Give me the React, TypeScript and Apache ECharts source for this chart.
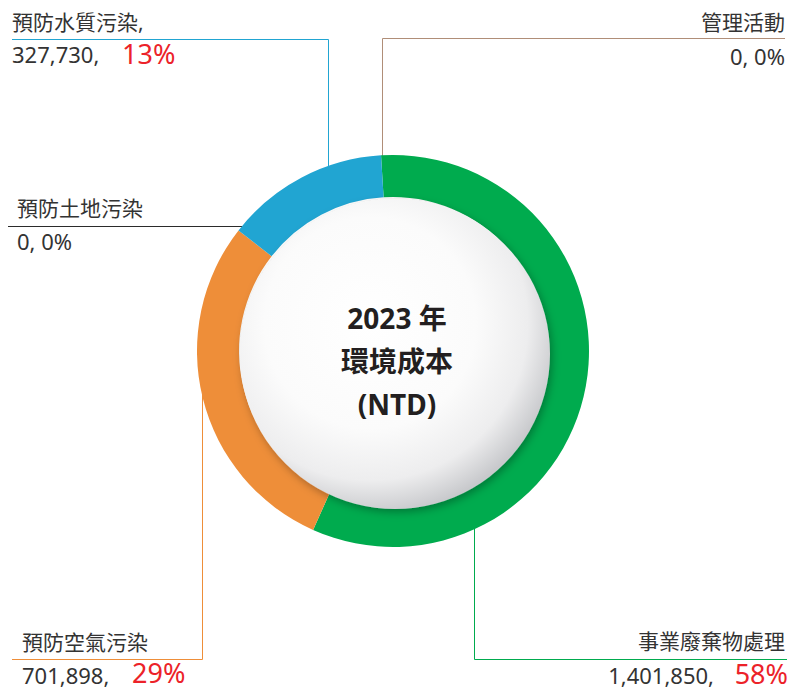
import React, { useEffect, useRef } from "react";
import * as echarts from "echarts";

// ---- data ----
const categories = ["事業廢棄物處理", "預防空氣污染", "預防土地污染", "預防水質污染", "管理活動"];
const values = [1401850, 701898, 0, 327730, 0];
const sliceColors = ["#00ab4e", "#ee8e39", "#2b2b2b", "#21a5d2", "#b08e78"];
const centerTitle = ["2023 年", "環境成本", "(NTD)"];

// ---- annotation layout (positions only) ----
type Ann = {
  align: "left" | "right";
  nameX: number; nameY: number;
  valX: number; valY: number;
  pctX: number; pctDy: number;
  line: number[][];
  nameSuffix: string;
};
const annotations: Ann[] = [
  { align: "right", nameX: 785, nameY: 641, valX: 714, valY: 675, pctX: 788, pctDy: -2, line: [[474.5, 520], [474.5, 659.5], [787, 659.5]], nameSuffix: "" },
  { align: "left", nameX: 22, nameY: 642, valX: 22, valY: 675, pctX: 132, pctDy: -3, line: [[202.5, 390], [202.5, 659.5], [12, 659.5]], nameSuffix: "" },
  { align: "left", nameX: 17, nameY: 208, valX: 17, valY: 241, pctX: 0, pctDy: 0, line: [[250, 226.5], [8, 226.5]], nameSuffix: "" },
  { align: "left", nameX: 12, nameY: 22, valX: 12, valY: 54, pctX: 122, pctDy: -1, line: [[328.5, 175], [328.5, 39.5], [12, 39.5]], nameSuffix: "," },
  { align: "right", nameX: 785, nameY: 22, valX: 785, valY: 56, pctX: 0, pctDy: 0, line: [[382.5, 165], [382.5, 38.5], [785, 38.5]], nameSuffix: "" },
];

const FONT = "'Noto Sans', 'Noto Sans CJK TC', sans-serif";
const TEXT_COLOR = "#333333";
const RED = "#ec2229";

export default function App() {
  const ref = useRef<HTMLDivElement>(null);
  useEffect(() => {
    if (!ref.current) return;
    const chart = echarts.init(ref.current, undefined, { renderer: "svg" });
    const total = values.reduce((a, b) => a + b, 0);
    const graphics: any[] = [];
    categories.forEach((name, i) => {
      const a = annotations[i];
      const v = values[i];
      const pct = Math.round((v / total) * 100);
      graphics.push({
        type: "polyline",
        z: 1,
        silent: true,
        shape: { points: a.line },
        style: { stroke: sliceColors[i], lineWidth: 1, fill: null },
      });
      graphics.push({
        type: "text",
        z: 20,
        x: a.nameX,
        y: a.nameY,
        style: {
          text: name + a.nameSuffix,
          fill: TEXT_COLOR,
          font: `21px ${FONT}`,
          lineHeight: 20,
          align: a.align,
          verticalAlign: "middle",
        },
      });
      if (v > 0) {
        graphics.push({
          type: "text",
          z: 20,
          x: a.valX,
          y: a.valY,
          style: {
            text: v.toLocaleString("en-US") + ",",
            fill: TEXT_COLOR,
            font: `22px ${FONT}`,
            lineHeight: 22,
            align: a.align,
            verticalAlign: "middle",
          },
        });
        graphics.push({
          type: "text",
          z: 20,
          x: a.pctX,
          y: a.valY + a.pctDy,
          style: {
            text: pct + "%",
            fill: RED,
            font: `27px ${FONT}`,
            lineHeight: 24,
            align: a.align,
            verticalAlign: "middle",
          },
        });
      } else {
        graphics.push({
          type: "text",
          z: 20,
          x: a.valX,
          y: a.valY,
          style: {
            text: v.toLocaleString("en-US") + ", " + pct + "%",
            fill: TEXT_COLOR,
            font: `22px ${FONT}`,
            lineHeight: 22,
            align: a.align,
            verticalAlign: "middle",
          },
        });
      }
    });

    // sphere
    graphics.push({
      type: "circle",
      z: 10,
      silent: true,
      shape: { cx: 395, cy: 354, r: 155 },
      style: {
        fill: {
          type: "radial",
          x: 0.42,
          y: 0.4,
          r: 0.62,
          colorStops: [
            { offset: 0, color: "#ffffff" },
            { offset: 0.55, color: "#fbfbfb" },
            { offset: 0.82, color: "#ededee" },
            { offset: 1, color: "#c8c9cc" },
          ],
        },
        shadowBlur: 8,
        shadowColor: "rgba(0,0,0,0.3)",
        shadowOffsetX: 2,
        shadowOffsetY: 3,
      },
    });
    centerTitle.forEach((t, k) => {
      graphics.push({
        type: "text",
        z: 20,
        x: 397,
        y: 318 + k * 43,
        style: {
          text: t,
          fill: "#231f20",
          font: `bold 28px ${FONT}`,
          align: "center",
          verticalAlign: "middle",
        },
      });
    });

    chart.setOption({
      animation: false,
      backgroundColor: "#ffffff",
      series: [
        {
          type: "pie",
          z: 5,
          center: [393, 351],
          radius: [154, 196],
          startAngle: 93.5,
          clockwise: true,
          silent: true,
          minAngle: 0,
          avoidLabelOverlap: false,
          label: { show: false },
          labelLine: { show: false },
          emphasis: { disabled: true },
          itemStyle: { borderWidth: 0 },
          data: categories.map((c, i) => ({
            name: c,
            value: values[i],
            itemStyle: { color: sliceColors[i] },
          })),
        },
      ],
      graphic: { elements: graphics },
    });
    return () => chart.dispose();
  }, []);
  return (
    <div
      ref={ref}
      style={{ position: "fixed", left: 0, top: 0, width: 794, height: 690, background: "#fff" }}
    />
  );
}
